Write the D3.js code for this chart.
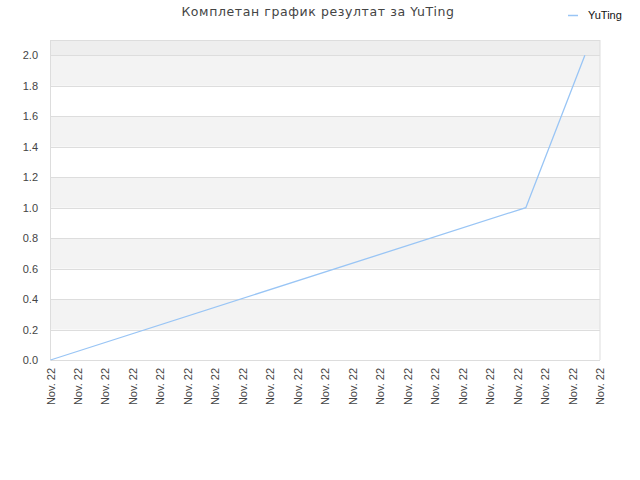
<!DOCTYPE html>
<html><head><meta charset="utf-8">
<script src="https://cdn.jsdelivr.net/npm/d3@7"></script>
<style>body{margin:0;background:#fff}svg{display:block}</style>
</head><body>
<script>
const title = "Комплетан график резултат за YuTing";
const seriesName = "YuTing";
const xTickLabels = Array.from({length:21}, () => "Nov. 22");
const xValues = [0, 17.3, 19.45];
const yValues = [0, 1, 2];
const yTicks = [0,0.2,0.4,0.6,0.8,1.0,1.2,1.4,1.6,1.8,2.0];

const W=640,H=480, m={l:50.5,r:40,t:40,b:120};
const svg=d3.select("body").append("svg").attr("width",W).attr("height",H);
const x=d3.scaleLinear().domain([0,xTickLabels.length-1]).range([m.l,W-m.r]);
const y=d3.scaleLinear().domain([0,2.1]).range([H-m.b,m.t]);
const g=svg.append("g");
const tickFont="Liberation Sans, Arial, sans-serif";
g.append("rect").attr("x",x(0)).attr("width",x(20)-x(0)).attr("y",y(2.1)).attr("height",y(2.0)-y(2.1)).attr("fill","#eeeeee");
for(let i=0;i<yTicks.length-1;i++){
  g.append("rect").attr("x",x(0)).attr("width",x(20)-x(0)).attr("y",y(yTicks[i+1])).attr("height",y(yTicks[i])-y(yTicks[i+1]))
   .attr("fill", i%2===1 ? "#f3f3f3" : "#ffffff");
}
g.selectAll(".gl").data(yTicks.concat([2.1])).enter().append("line")
 .attr("x1",x(0)).attr("x2",x(20)).attr("y1",d=>Math.round(y(d))+0.5).attr("y2",d=>Math.round(y(d))+0.5)
 .attr("stroke","#dddddd");
g.append("line").attr("x1",x(0)).attr("x2",x(0)).attr("y1",y(2.1)).attr("y2",y(0)).attr("stroke","#dddddd");
g.append("line").attr("x1",x(20)).attr("x2",x(20)).attr("y1",y(2.1)).attr("y2",y(0)).attr("stroke","#dddddd");
g.selectAll(".yl").data(yTicks).enter().append("text")
 .attr("x",38).attr("y",d=>y(d)+4).attr("text-anchor","end")
 .attr("font-family",tickFont).attr("font-size",11).attr("fill","#444")
 .text(d=>d.toFixed(1));
g.selectAll(".xl").data(xTickLabels).enter().append("text")
 .attr("transform",(d,i)=>`translate(${x(i)+4},368) rotate(-90)`).attr("text-anchor","end")
 .attr("font-family",tickFont).attr("font-size",11).attr("fill","#444")
 .text(d=>d);
const pts=xValues.map((v,i)=>[v,yValues[i]]);
g.append("path").datum(pts).attr("d",d3.line().x(d=>x(d[0])).y(d=>y(d[1])))
 .attr("fill","none").attr("stroke","#99c5f5").attr("stroke-width",1.3);
svg.append("text").attr("x",318).attr("y",16).attr("text-anchor","middle")
 .attr("font-family","DejaVu Sans, sans-serif").attr("font-size",12.5).attr("fill","#444").attr("letter-spacing",0.6)
 .text(title);
svg.append("line").attr("x1",568).attr("x2",578).attr("y1",15.5).attr("y2",15.5).attr("stroke","#99c5f5").attr("stroke-width",1.5);
svg.append("text").attr("x",588).attr("y",19).attr("font-family",tickFont).attr("font-size",11).attr("fill","#111").text(seriesName);
</script>
</body></html>
